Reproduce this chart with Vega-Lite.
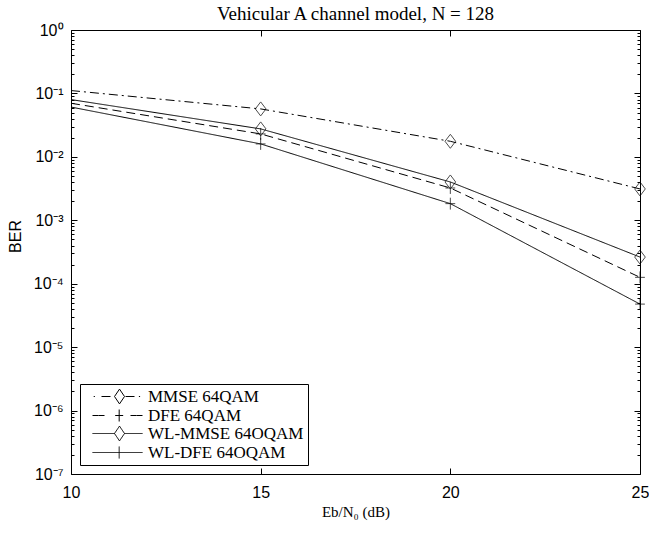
{
  "$schema": "https://vega.github.io/schema/vega-lite/v6.json",
  "width": 569,
  "height": 444,
  "autosize": "none",
  "padding": {"left": 71, "top": 30, "right": 9, "bottom": 59},
  "title": {"text": "Vehicular A channel model, N = 128", "font": "Liberation Serif", "fontSize": 19, "fontWeight": "normal", "color": "black", "offset": -2},
  "data": {"values": [
    {"series": "MMSE 64QAM", "snr": 10, "ber": 0.111},
    {"series": "MMSE 64QAM", "snr": 15, "ber": 0.057},
    {"series": "MMSE 64QAM", "snr": 20, "ber": 0.0176},
    {"series": "MMSE 64QAM", "snr": 25, "ber": 0.00312},
    {"series": "DFE 64QAM", "snr": 10, "ber": 0.070},
    {"series": "DFE 64QAM", "snr": 15, "ber": 0.023},
    {"series": "DFE 64QAM", "snr": 20, "ber": 0.00323},
    {"series": "DFE 64QAM", "snr": 25, "ber": 0.000126},
    {"series": "WL-MMSE 64OQAM", "snr": 10, "ber": 0.080},
    {"series": "WL-MMSE 64OQAM", "snr": 15, "ber": 0.0276},
    {"series": "WL-MMSE 64OQAM", "snr": 20, "ber": 0.00402},
    {"series": "WL-MMSE 64OQAM", "snr": 25, "ber": 0.000263},
    {"series": "WL-DFE 64OQAM", "snr": 10, "ber": 0.061},
    {"series": "WL-DFE 64OQAM", "snr": 15, "ber": 0.016},
    {"series": "WL-DFE 64OQAM", "snr": 20, "ber": 0.00183},
    {"series": "WL-DFE 64OQAM", "snr": 25, "ber": 0.0000477}
  ]},
  "layer": [
    {
      "mark": {"type": "line", "color": "black", "strokeWidth": 1},
      "encoding": {
        "x": {"field": "snr", "type": "quantitative",
              "scale": {"domain": [10, 25], "nice": false, "zero": false},
              "axis": {"orient": "bottom", "tickSize": -6, "values": [10, 15, 20, 25], "labelPadding": 16, "labelFlush": false,
                       "title": "Eb/N₀ (dB)", "titleFont": "Liberation Serif", "titleFontSize": 15, "titlePadding": 4}},
        "y": {"field": "ber", "type": "quantitative",
              "scale": {"type": "log", "domain": [1e-7, 1], "nice": false},
              "axis": {"orient": "left", "labelFlush": false,
                       "values": [1e-7,2e-7,3e-7,4e-7,5e-7,6e-7,7e-7,8e-7,9e-7,1e-6,2e-6,3e-6,4e-6,5e-6,6e-6,7e-6,8e-6,9e-6,1e-5,2e-5,3e-5,4e-5,5e-5,6e-5,7e-5,8e-5,9e-5,1e-4,2e-4,3e-4,4e-4,5e-4,6e-4,7e-4,8e-4,9e-4,1e-3,2e-3,3e-3,4e-3,5e-3,6e-3,7e-3,8e-3,9e-3,1e-2,2e-2,3e-2,4e-2,5e-2,6e-2,7e-2,8e-2,9e-2,0.1,0.2,0.3,0.4,0.5,0.6,0.7,0.8,0.9,1],
                       "tickSize": {"condition": {"test": "abs(log(datum.value)/LN10 - round(log(datum.value)/LN10)) < 0.001", "value": -6}, "value": -3},
                       "labelExpr": "abs(log(datum.value)/LN10 - round(log(datum.value)/LN10)) < 0.001 ? ['10⁰','10⁻¹','10⁻²','10⁻³','10⁻⁴','10⁻⁵','10⁻⁶','10⁻⁷'][round(-log(datum.value)/LN10)] : ''",
                       "labelPadding": 14, "title": "BER", "titlePadding": 10, "titleY": 206}},
        "strokeDash": {"field": "series", "type": "nominal",
                       "scale": {"domain": ["MMSE 64QAM", "DFE 64QAM", "WL-MMSE 64OQAM", "WL-DFE 64OQAM"],
                                 "range": [[9, 4, 2, 4], [9, 5], [1, 0], [1, 0]]},
                       "legend": {"title": null, "orient": "bottom-left", "offset": 9,
                                  "strokeColor": "black", "fillColor": "white", "padding": 4, "rowPadding": 0,
                                  "labelFont": "Liberation Serif", "labelFontSize": 17, "labelColor": "black",
                                  "symbolSize": 64, "labelOffset": 47, "symbolStrokeWidth": 1, "symbolStrokeColor": "black",
                                  "symbolFillColor": "white", "symbolOpacity": 1}}
      }
    },
    {
      "mark": {"type": "point", "opacity": 0, "color": "black", "filled": false, "strokeWidth": 1},
      "encoding": {
        "x": {"field": "snr", "type": "quantitative", "axis": null},
        "y": {"field": "ber", "type": "quantitative", "axis": null},
        "shape": {"field": "series", "type": "nominal",
                  "scale": {"domain": ["MMSE 64QAM", "DFE 64QAM", "WL-MMSE 64OQAM", "WL-DFE 64OQAM"],
                            "range": ["M0.3,0L0.6,0M2.25,0L4.5,0M5.5,0L6.75,-1.85M6.75,-1.85L8,0M8,0L6.75,1.85M6.75,1.85L5.5,0M8.25,0L10.5,0M11.6,0L11.9,0",
                                      "M0,0L1.5,0M1.5,0L3,0M5.67,0L7.67,0M6.67,-1.5L6.67,0M6.67,0L6.67,1.5M9.5,0L11,0M11,0L12.5,0",
                                      "M0,0L5.5,0M5.5,0L6.75,-1.85L8,0L6.75,1.85ZM8,0L12.5,0",
                                      "M0,0L12.5,0M6.67,-1.5L6.67,1.5"]},
                  "legend": {"title": null, "orient": "bottom-left", "offset": 9,
                             "strokeColor": "black", "fillColor": "white", "padding": 4, "rowPadding": 0,
                             "labelFont": "Liberation Serif", "labelFontSize": 17, "labelColor": "black",
                             "symbolSize": 64, "labelOffset": 47, "symbolStrokeWidth": 1, "symbolStrokeColor": "black",
                             "symbolFillColor": "white", "symbolOpacity": 1}}
      }
    },
    {
      "transform": [{"filter": "datum.snr > 10 && (datum.series === 'MMSE 64QAM' || datum.series === 'WL-MMSE 64OQAM')"}],
      "mark": {"type": "point", "shape": "M0,-1L0.76,0L0,1L-0.76,0Z", "filled": false, "color": "black", "strokeWidth": 1, "size": 196},
      "encoding": {
        "x": {"field": "snr", "type": "quantitative",
              "axis": {"orient": "top", "labels": false, "title": null, "tickSize": -6, "values": [10, 15, 20, 25]}},
        "y": {"field": "ber", "type": "quantitative",
              "axis": {"orient": "right", "labels": false, "title": null,
                       "values": [1e-7,2e-7,3e-7,4e-7,5e-7,6e-7,7e-7,8e-7,9e-7,1e-6,2e-6,3e-6,4e-6,5e-6,6e-6,7e-6,8e-6,9e-6,1e-5,2e-5,3e-5,4e-5,5e-5,6e-5,7e-5,8e-5,9e-5,1e-4,2e-4,3e-4,4e-4,5e-4,6e-4,7e-4,8e-4,9e-4,1e-3,2e-3,3e-3,4e-3,5e-3,6e-3,7e-3,8e-3,9e-3,1e-2,2e-2,3e-2,4e-2,5e-2,6e-2,7e-2,8e-2,9e-2,0.1,0.2,0.3,0.4,0.5,0.6,0.7,0.8,0.9,1],
                       "tickSize": {"condition": {"test": "abs(log(datum.value)/LN10 - round(log(datum.value)/LN10)) < 0.001", "value": -6}, "value": -3}}}
      }
    },
    {
      "transform": [{"filter": "datum.snr > 10 && (datum.series === 'DFE 64QAM' || datum.series === 'WL-DFE 64OQAM')"}],
      "mark": {"type": "point", "shape": "M-0.7,0L0.7,0M0,-0.85L0,0.85", "filled": false, "color": "black", "strokeWidth": 1, "size": 196},
      "encoding": {
        "x": {"field": "snr", "type": "quantitative", "axis": null},
        "y": {"field": "ber", "type": "quantitative", "axis": null}
      }
    }
  ],
  "resolve": {"axis": {"x": "independent", "y": "independent"}},
  "config": {
    "view": {"stroke": "black", "strokeWidth": 1},
    "axis": {"grid": false, "domain": false, "tickColor": "black", "tickWidth": 1, "labelColor": "black", "titleColor": "black",
             "labelFont": "Liberation Sans", "labelFontSize": 16, "titleFont": "Liberation Sans", "titleFontSize": 16, "titleFontWeight": "normal"}
  }
}
